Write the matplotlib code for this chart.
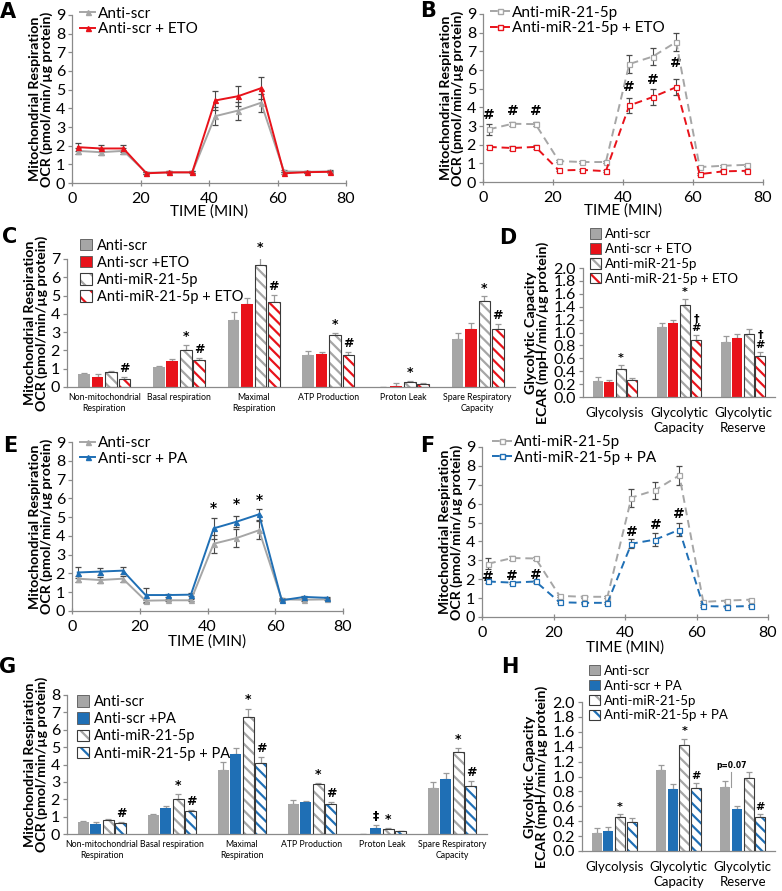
import numpy as np
import matplotlib
matplotlib.use("Agg")
import matplotlib.pyplot as plt
from matplotlib.patches import Patch
from matplotlib.lines import Line2D

plt.rcParams["font.family"] = ["Lato", "DejaVu Sans"]
plt.rcParams["hatch.linewidth"] = 1.6

GREY = "#a6a6a6"
RED = "#e8121a"
BLUE = "#1f6fb5"
SPINE = "#8a8a8a"
ERR = "#4a4a4a"

# ── time course (Seahorse) ──────────────────────────────────────
time_min = [1.7, 8.4, 15.0, 21.7, 28.4, 35.1, 41.8, 48.5, 55.2, 61.9, 68.6, 75.3]

scr_ocr = [1.72, 1.65, 1.72, 0.55, 0.57, 0.57, 3.58, 3.88, 4.30, 0.62, 0.60, 0.62]
scr_err = [0.15, 0.15, 0.15, 0.05, 0.05, 0.05, 0.48, 0.48, 0.48, 0.05, 0.05, 0.05]
scr_eto_ocr = [1.92, 1.85, 1.85, 0.52, 0.57, 0.57, 4.42, 4.65, 5.08, 0.52, 0.58, 0.60]
scr_eto_err = [0.22, 0.20, 0.18, 0.05, 0.05, 0.05, 0.52, 0.55, 0.60, 0.05, 0.05, 0.05]

mir_ocr = [2.82, 3.12, 3.10, 1.12, 1.07, 1.07, 6.32, 6.72, 7.50, 0.80, 0.87, 0.92]
mir_err = [0.30, 0.10, 0.10, 0.05, 0.05, 0.05, 0.48, 0.45, 0.50, 0.05, 0.05, 0.05]
mir_eto_ocr = [1.88, 1.82, 1.88, 0.62, 0.65, 0.58, 4.10, 4.55, 5.08, 0.42, 0.57, 0.60]
mir_eto_err = [0.10, 0.12, 0.12, 0.05, 0.05, 0.05, 0.38, 0.45, 0.42, 0.05, 0.05, 0.05]

scr_pa_ocr = [2.05, 2.10, 2.15, 0.85, 0.85, 0.87, 4.40, 4.75, 5.15, 0.57, 0.75, 0.70]
scr_pa_err = [0.27, 0.18, 0.18, 0.40, 0.08, 0.08, 0.55, 0.30, 0.30, 0.05, 0.05, 0.05]
mir_pa_ocr = [1.88, 1.82, 1.88, 0.78, 0.75, 0.75, 3.88, 4.10, 4.62, 0.58, 0.55, 0.58]
mir_pa_err = [0.08, 0.05, 0.08, 0.05, 0.05, 0.05, 0.25, 0.35, 0.35, 0.05, 0.05, 0.05]

# significance marks on time courses: (point index, y)
b_marks = [(0, 3.61), (1, 3.79), (2, 3.79), (6, 5.09), (7, 5.48), (8, 6.40)]
e_marks = [(6, 5.50), (7, 5.72), (8, 5.92)]
f_marks = [(0, 2.14), (1, 2.18), (2, 2.23), (6, 4.52), (7, 4.87), (8, 5.45)]

# ── mito stress summary ─────────────────────────────────────────
ocr_cats = ["Non-mitochondrial\nRespiration", "Basal respiration", "Maximal\nRespiration",
            "ATP Production", "Proton Leak", "Spare Respiratory\nCapacity"]

c_scr = [0.70, 1.09, 3.68, 1.77, 0.02, 2.62]
c_scr_err = [0.07, 0.08, 0.42, 0.20, 0.00, 0.35]
c_eto = [0.55, 1.43, 4.55, 1.82, 0.05, 3.17]
c_eto_err = [0.15, 0.12, 0.31, 0.12, 0.15, 0.35]
c_mir = [0.82, 2.00, 6.68, 2.86, 0.25, 4.70]
c_mir_err = [0.03, 0.30, 0.50, 0.10, 0.10, 0.25]
c_mir_eto = [0.45, 1.48, 4.64, 1.75, 0.18, 3.17]
c_mir_eto_err = [0.08, 0.10, 0.40, 0.15, 0.04, 0.30]

g_scr = [0.67, 1.11, 3.68, 1.74, 0.02, 2.64]
g_scr_err = [0.07, 0.05, 0.45, 0.20, 0.00, 0.35]
g_pa = [0.57, 1.51, 4.63, 1.82, 0.33, 3.16]
g_pa_err = [0.12, 0.12, 0.32, 0.10, 0.17, 0.35]
g_mir = [0.82, 2.00, 6.72, 2.85, 0.27, 4.70]
g_mir_err = [0.03, 0.30, 0.50, 0.08, 0.05, 0.25]
g_mir_pa = [0.62, 1.30, 4.06, 1.74, 0.15, 2.76]
g_mir_pa_err = [0.06, 0.10, 0.38, 0.12, 0.03, 0.30]

# ── glycolysis summary ──────────────────────────────────────────
ecar_cats = ["Glycolysis", "Glycolytic\nCapacity", "Glycolytic\nReserve"]

d_scr = [0.25, 1.09, 0.85]
d_scr_err = [0.06, 0.06, 0.09]
d_eto = [0.23, 1.14, 0.92]
d_eto_err = [0.04, 0.06, 0.06]
d_mir = [0.44, 1.43, 0.98]
d_mir_err = [0.05, 0.09, 0.08]
d_mir_eto = [0.26, 0.89, 0.64]
d_mir_eto_err = [0.04, 0.07, 0.06]

h_scr = [0.24, 1.09, 0.86]
h_scr_err = [0.07, 0.06, 0.08]
h_pa = [0.27, 0.83, 0.56]
h_pa_err = [0.05, 0.07, 0.04]
h_mir = [0.45, 1.42, 0.98]
h_mir_err = [0.04, 0.09, 0.08]
h_mir_pa = [0.39, 0.84, 0.46]
h_mir_pa_err = [0.05, 0.07, 0.04]

# annotations on bars: (category, series index, text)
c_marks = [(0, 3, "#"), (1, 2, "*"), (1, 3, "#"), (2, 2, "*"), (2, 3, "#"),
           (3, 2, "*"), (3, 3, "#"), (4, 2, "*"), (5, 2, "*"), (5, 3, "#")]
g_marks = [(0, 3, "#"), (1, 2, "*"), (1, 3, "#"), (2, 2, "*"), (2, 3, "#"),
           (3, 2, "*"), (3, 3, "#"), (4, 1, "‡"), (4, 2, "*"), (5, 2, "*"), (5, 3, "#")]
d_marks = [(0, 2, "*"), (1, 2, "*"), (1, 3, "†\n#"), (2, 3, "†\n#")]
h_marks = [(0, 2, "*"), (1, 2, "*"), (1, 3, "#"), (2, 3, "#")]

OCR_LABEL = "Mitochondrial Respiration\nOCR (pmol/min/µg protein)"
ECAR_LABEL = "Glycolytic Capacity\nECAR (mpH/min/µg protein)"


def style_axes(ax):
    for s in ("top", "right"):
        ax.spines[s].set_visible(False)
    for s in ("left", "bottom"):
        ax.spines[s].set_color(SPINE)
        ax.spines[s].set_linewidth(0.9)
    ax.tick_params(colors=SPINE, labelcolor="black", width=0.9, length=3)


def line_panel(ax, y1, e1, y2, e2, c2, marker, dashed, labels, marks, mark, leg_xy, xpad):
    style_axes(ax)
    ls = (0, (4, 2.5)) if dashed else "-"
    for y, e, c in ((y1, e1, GREY), (y2, e2, c2)):
        mfc = "white" if marker == "s" else c
        ax.errorbar(time_min, y, yerr=e, color=c, ls=ls, lw=1.4, marker=marker,
                    ms=3.6, mfc=mfc, mec=c, mew=0.9, ecolor=ERR, elinewidth=0.8,
                    capsize=2, capthick=0.8, zorder=3)
    for i, yy in marks:
        ax.text(time_min[i], yy, mark, ha="center", va="center", fontsize=10,
                fontweight="bold", family=["DejaVu Sans"])
    ax.set_xlim(0, 80)
    ax.set_ylim(0, 9)
    ax.set_xticks([0, 20, 40, 60, 80])
    ax.set_yticks(range(10))
    ax.tick_params(axis="x", direction="inout", length=5, pad=4, labelsize=11.5)
    ax.tick_params(axis="y", labelsize=11.5, pad=2)
    ax.set_xlabel("TIME (MIN)", fontsize=11, labelpad=xpad)
    ax.set_ylabel(OCR_LABEL, fontsize=10.2, fontweight="bold", labelpad=2, linespacing=0.95)
    mfc1 = "white" if marker == "s" else GREY
    mfc2 = "white" if marker == "s" else c2
    handles = [Line2D([], [], color=GREY, ls=ls, lw=1.4, marker=marker, ms=3.6, mfc=mfc1, mec=GREY),
               Line2D([], [], color=c2, ls=ls, lw=1.4, marker=marker, ms=3.6, mfc=mfc2, mec=c2)]
    ax.legend(handles, labels, loc="upper left", bbox_to_anchor=leg_xy, frameon=False,
              fontsize=11, handlelength=1.3 if dashed else 1.0, handletextpad=0.15,
              labelspacing=0.1, borderpad=0, borderaxespad=0)


def bar_panel(ax, cats, series, errs, c2, labels, marks, ymax, yticks, fmt,
              tick_fs, cat_fs, cat_pad, leg_xy, leg_fs, mark_fs):
    style_axes(ax)
    x = np.arange(len(cats))
    offs = (np.arange(4) - 1.5) * 0.18
    w = 0.155
    colors = [GREY, c2, GREY, c2]
    handles = []
    for i in range(4):
        if i < 2:
            ax.bar(x + offs[i], series[i], w, color=colors[i], edgecolor="none", zorder=2)
            handles.append(Patch(facecolor=colors[i], edgecolor="#555555", lw=0.6))
        else:
            ax.bar(x + offs[i], series[i], w, color="white", edgecolor=colors[i],
                   hatch="\\\\\\", lw=0, zorder=2)
            ax.bar(x + offs[i], series[i], w, fill=False, edgecolor="#3a3a3a", lw=0.8, zorder=3)
            handles.append((Patch(facecolor="white", edgecolor=colors[i], hatch="\\\\", lw=0),
                            Patch(fill=False, edgecolor="#3a3a3a", lw=0.8)))
        ax.errorbar(x + offs[i], series[i], yerr=[np.zeros(len(cats)), errs[i]], fmt="none",
                    ecolor="#9a9a9a", elinewidth=0.9, capsize=2, capthick=0.9, zorder=1)
    for k, i, t in marks:
        top = series[i][k] + errs[i][k]
        ax.text(x[k] + offs[i], top + ymax * 0.015, t, ha="center", va="bottom",
                fontsize=mark_fs, fontweight="bold", family=["DejaVu Sans"], linespacing=0.95)
    ax.set_xlim(-0.5, len(cats) - 0.5)
    ax.set_ylim(0, ymax)
    ax.set_yticks(yticks)
    ax.set_yticklabels([fmt.format(v) for v in yticks])
    ax.set_xticks(x)
    ax.set_xticklabels(cats, fontsize=cat_fs, linespacing=1.3)
    ax.tick_params(axis="x", length=0, pad=cat_pad)
    ax.tick_params(axis="y", labelsize=tick_fs, pad=2)
    ax.legend(handles, labels, loc="upper left", bbox_to_anchor=leg_xy, frameon=False,
              fontsize=leg_fs, handlelength=0.85, handleheight=0.85, handletextpad=0.3,
              labelspacing=0.22, borderpad=0, borderaxespad=0)
    return x, offs


fig = plt.figure(figsize=(7.82, 8.91), dpi=100)

W, H = 782.0, 891.0


def axes_px(x0, x1, y0, y1):
    return fig.add_axes([x0 / W, 1 - y1 / H, (x1 - x0) / W, (y1 - y0) / H])


# A
axA = axes_px(72, 346, 15, 183)
line_panel(axA, scr_ocr, scr_err, scr_eto_ocr, scr_eto_err, RED, "^", False,
           ["Anti-scr", "Anti-scr + ETO"], [], "", (0.03, 1.05), -1)
# B
axB = axes_px(483, 763, 14, 182)
line_panel(axB, mir_ocr, mir_err, mir_eto_ocr, mir_eto_err, RED, "s", True,
           ["Anti-miR-21-5p", "Anti-miR-21-5p + ETO"], b_marks, "#", (0.025, 1.05), -1)
# E
axE = axes_px(72, 343, 442, 611)
line_panel(axE, scr_ocr, scr_err, scr_pa_ocr, scr_pa_err, BLUE, "^", False,
           ["Anti-scr", "Anti-scr + PA"], e_marks, "*", (0.03, 1.035), 0)
# F
axF = axes_px(482, 768, 447, 617)
line_panel(axF, mir_ocr, mir_err, mir_pa_ocr, mir_pa_err, BLUE, "s", True,
           ["Anti-miR-21-5p", "Anti-miR-21-5p + PA"], f_marks, "#", (0.034, 1.07), 0)

# C
axC = axes_px(67, 515, 259, 387)
bar_panel(axC, ocr_cats, [c_scr, c_eto, c_mir, c_mir_eto],
          [c_scr_err, c_eto_err, c_mir_err, c_mir_eto_err], RED,
          ["Anti-scr", "Anti-scr +ETO", "Anti-miR-21-5p", "Anti-miR-21-5p + ETO"],
          c_marks, 7, list(range(8)), "{:d}", 11.5, 6.3, 4, (0.029, 1.16), 10.5, 9)
axC.set_ylabel(OCR_LABEL, fontsize=10.2, fontweight="bold", labelpad=2, linespacing=0.95)

# G
axG = axes_px(67, 487, 695, 834)
bar_panel(axG, ocr_cats, [g_scr, g_pa, g_mir, g_mir_pa],
          [g_scr_err, g_pa_err, g_mir_err, g_mir_pa_err], BLUE,
          ["Anti-scr", "Anti-scr +PA", "Anti-miR-21-5p", "Anti-miR-21-5p + PA"],
          g_marks, 8, list(range(9)), "{:d}", 11.5, 6.3, 4, (0.024, 1.0), 10.5, 9)
axG.set_ylabel(OCR_LABEL, fontsize=10.2, fontweight="bold", labelpad=2, linespacing=0.95)

ecar_ticks = [round(0.2 * i, 1) for i in range(11)]
# D
axD = axes_px(583, 775, 268, 397)
bar_panel(axD, ecar_cats, [d_scr, d_eto, d_mir, d_mir_eto],
          [d_scr_err, d_eto_err, d_mir_err, d_mir_eto_err], RED,
          ["Anti-scr", "Anti-scr + ETO", "Anti-miR-21-5p", "Anti-miR-21-5p + ETO"],
          d_marks, 2.0, ecar_ticks, "{:.1f}", 11.5, 9.5, 7, (0.036, 1.31), 9.5, 8)
axD.set_ylabel(ECAR_LABEL, fontsize=10.3, fontweight="bold", labelpad=3, linespacing=1.0)

# H
axH = axes_px(582, 775, 702, 851)
xh, offh = bar_panel(axH, ecar_cats, [h_scr, h_pa, h_mir, h_mir_pa],
                     [h_scr_err, h_pa_err, h_mir_err, h_mir_pa_err], BLUE,
                     ["Anti-scr", "Anti-scr + PA", "Anti-miR-21-5p", "Anti-miR-21-5p + PA"],
                     h_marks, 2.0, ecar_ticks, "{:.1f}", 11.5, 9.5, 7, (0.036, 1.25), 9.5, 8)
axH.set_ylabel(ECAR_LABEL, fontsize=10.3, fontweight="bold", labelpad=3, linespacing=1.0)
px = xh[2] + (offh[0] + offh[1]) / 2
axH.plot([px, px], [0.86, 1.06], color="#9a9a9a", lw=0.8)
axH.text(px, 1.09, "p=0.07", ha="center", va="bottom", fontsize=5.5, fontweight="bold",
         family=["DejaVu Sans"])

# panel letters
for letter, (lx, ly) in {"A": (8, 12), "B": (428, 11), "C": (10, 237), "D": (508, 238),
                         "E": (10, 446), "F": (427, 446), "G": (8, 667), "H": (510, 667)}.items():
    fig.text(lx / W, 1 - ly / H, letter, fontsize=15, fontweight="bold",
             ha="center", va="center", family=["DejaVu Sans"])

fig.savefig("out.png", dpi=100)
